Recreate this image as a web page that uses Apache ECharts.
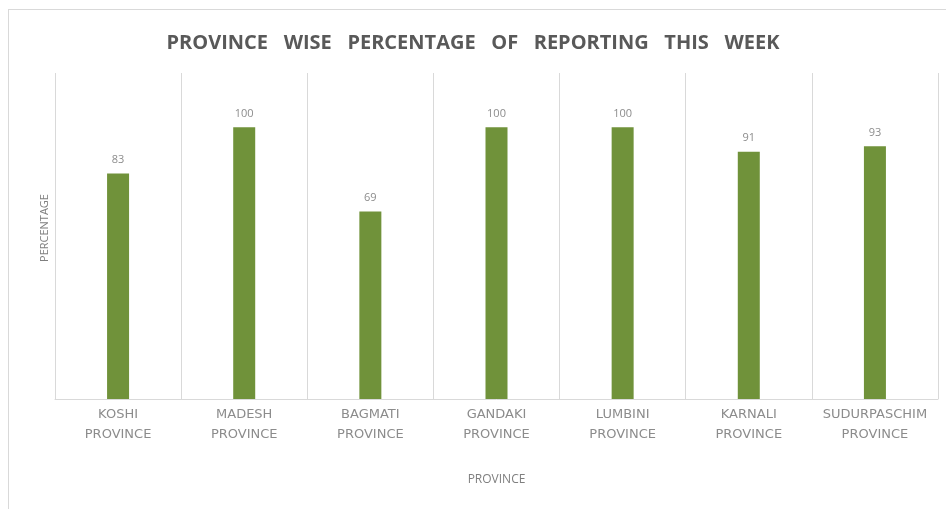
<!DOCTYPE html>
<html><head><meta charset="utf-8">
<script src="https://cdn.jsdelivr.net/npm/echarts@6/dist/echarts.min.js"></script>
<style>html,body{margin:0;padding:0;background:#fff}#c{width:946px;height:509px}
#frame{position:absolute;left:8px;top:9px;width:960px;height:520px;border:1px solid #d9d9d9;pointer-events:none}</style>
</head><body><div id="c"></div><div id="frame"></div>
<script>
const categories = ['KOSHI\nPROVINCE','MADESH\nPROVINCE','BAGMATI\nPROVINCE','GANDAKI\nPROVINCE','LUMBINI\nPROVINCE','KARNALI\nPROVINCE','SUDURPASCHIM\nPROVINCE'];
const values = [83, 100, 69, 100, 100, 91, 93];
const chart = echarts.init(document.getElementById('c'));
chart.setOption({
  animation:false,
  title:{text:'PROVINCE   WISE   PERCENTAGE   OF   REPORTING   THIS   WEEK',left:'center',top:28,
    textStyle:{fontFamily:'Open Sans',fontWeight:'bold',fontSize:20,color:'#595959'}},
  grid:{left:55,right:8,top:73,bottom:110},
  xAxis:{type:'category',data:categories,
    name:'PROVINCE',nameLocation:'middle',nameGap:75,
    nameTextStyle:{fontFamily:'Open Sans',fontSize:12,color:'#7f7f7f'},
    axisLine:{lineStyle:{color:'#d9d9d9'}},axisTick:{show:false},
    axisLabel:{interval:0,margin:6,fontFamily:'DejaVu Sans',fontSize:13,color:'#8c8c8c',lineHeight:20,align:'center'},
    splitLine:{show:true,lineStyle:{color:'#d9d9d9'}}},
  yAxis:{type:'value',min:0,max:120,interval:20,
    name:'PERCENTAGE',nameLocation:'middle',nameGap:5,nameRotate:90,
    nameTextStyle:{fontFamily:'Open Sans',fontSize:11,color:'#7f7f7f',padding:[0,0,0,16]},
    axisLabel:{show:false},axisLine:{show:false},axisTick:{show:false},splitLine:{show:false}},
  series:[{type:'bar',data:values,barWidth:22,itemStyle:{color:'#70923a'},
    label:{show:true,position:'top',distance:8,fontFamily:'Open Sans',fontSize:11,color:'#8c8c8c'}}]
});
</script></body></html>
